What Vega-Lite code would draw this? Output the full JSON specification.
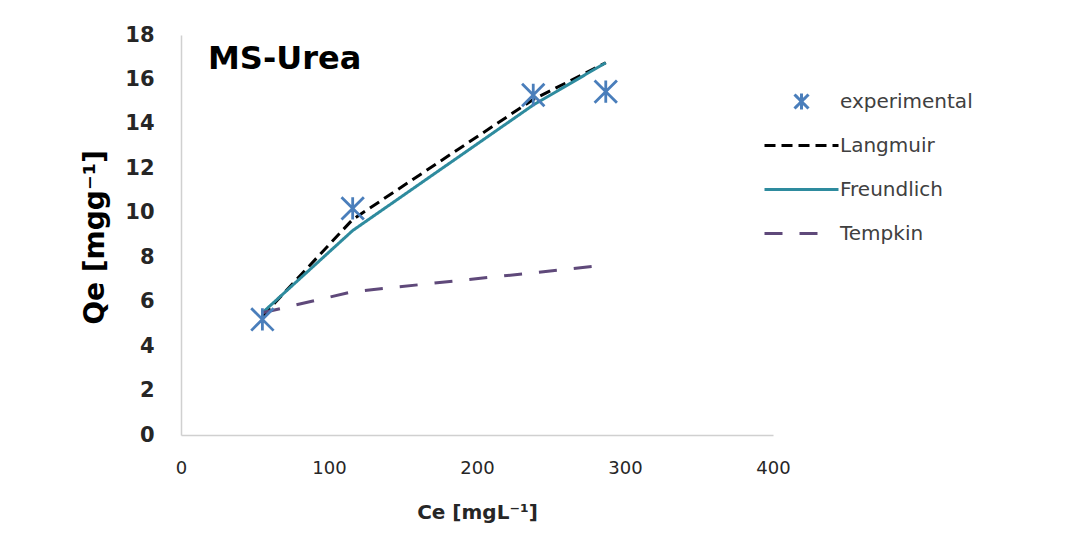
{
  "$schema": "https://vega.github.io/schema/vega-lite/v6.json",
  "width": 592,
  "height": 400,
  "autosize": {"type": "none"},
  "padding": {"left": 181, "top": 35, "right": 311, "bottom": 116},
  "background": "white",
  "config": {
    "view": {"stroke": null},
    "font": "DejaVu Sans"
  },
  "title": {
    "text": "MS-Urea",
    "anchor": "start",
    "frame": "group",
    "orient": "top",
    "offset": 0,
    "dx": 27,
    "dy": 77,
    "baseline": "alphabetic",
    "font": "DejaVu Sans",
    "fontSize": 32,
    "fontWeight": "bold",
    "color": "#000000"
  },
  "datasets": {
    "points": [
      {"ce": 55, "qe": 5.2, "series": "experimental"},
      {"ce": 116, "qe": 10.2, "series": "experimental"},
      {"ce": 238, "qe": 15.3, "series": "experimental"},
      {"ce": 287, "qe": 15.45, "series": "experimental"}
    ],
    "models": [
      {"ce": 55, "qe": 5.35, "series": "Langmuir"},
      {"ce": 116, "qe": 9.7, "series": "Langmuir"},
      {"ce": 238, "qe": 15.1, "series": "Langmuir"},
      {"ce": 287, "qe": 16.75, "series": "Langmuir"},
      {"ce": 55, "qe": 5.5, "series": "Freundlich"},
      {"ce": 116, "qe": 9.2, "series": "Freundlich"},
      {"ce": 238, "qe": 14.85, "series": "Freundlich"},
      {"ce": 287, "qe": 16.75, "series": "Freundlich"},
      {"ce": 55, "qe": 5.5, "series": "Tempkin"},
      {"ce": 116, "qe": 6.45, "series": "Tempkin"},
      {"ce": 238, "qe": 7.3, "series": "Tempkin"},
      {"ce": 287, "qe": 7.65, "series": "Tempkin"}
    ]
  },
  "encoding": {
    "x": {
      "field": "ce",
      "type": "quantitative",
      "scale": {"domain": [0, 400], "nice": false},
      "axis": {
        "values": [0, 100, 200, 300, 400],
        "grid": false,
        "ticks": false,
        "domainColor": "#D0D0D0",
        "domainWidth": 1.5,
        "labelFont": "DejaVu Sans",
        "labelFontSize": 18,
        "labelColor": "#262626",
        "labelPadding": 24,
        "labelFlush": false,
        "title": "Ce [mgL⁻¹]",
        "titleFont": "DejaVu Sans",
        "titleFontSize": 20,
        "titleFontWeight": "bold",
        "titleColor": "#262626",
        "titleY": 77,
        "titleBaseline": "middle"
      }
    },
    "y": {
      "field": "qe",
      "type": "quantitative",
      "scale": {"domain": [0, 18], "nice": false},
      "axis": {
        "values": [0, 2, 4, 6, 8, 10, 12, 14, 16, 18],
        "grid": false,
        "ticks": false,
        "domainColor": "#D0D0D0",
        "domainWidth": 1.5,
        "labelFont": "DejaVu Sans",
        "labelFontSize": 21,
        "labelFontWeight": "bold",
        "labelColor": "#262626",
        "labelPadding": 27,
        "labelFlush": false,
        "title": "Qe [mgg⁻¹]",
        "titleFont": "DejaVu Sans",
        "titleFontSize": 28,
        "titleFontWeight": "bold",
        "titleColor": "#000000",
        "titleAngle": -90,
        "titleX": -86,
        "titleY": 202,
        "titleAlign": "center",
        "titleBaseline": "middle"
      }
    }
  },
  "layer": [
    {
      "data": {"name": "models"},
      "mark": {"type": "line", "strokeWidth": 3},
      "encoding": {
        "color": {
          "field": "series",
          "type": "nominal",
          "scale": {
            "domain": ["experimental", "Langmuir", "Freundlich", "Tempkin"],
            "range": ["#4A7EBB", "#000000", "#2E8B9E", "#5F497A"]
          },
          "legend": {
            "title": null,
            "orient": "none",
            "legendX": 609,
            "legendY": 55,
            "symbolSize": 400,
            "symbolStrokeWidth": 3,
            "labelFont": "DejaVu Sans",
            "labelFontSize": 20,
            "labelColor": "#404040",
            "labelOffset": 27,
            "rowPadding": 18,
            "gridAlign": "all",
            "padding": 0,
            "encode": {
              "symbols": {
                "update": {
                  "shape": {"signal": "datum.value === 'experimental' ? 'M-0.7,-0.7L0.7,0.7M-0.7,0.7L0.7,-0.7M0,-0.8L0,0.8' : datum.value === 'Tempkin' ? 'M-3.7,0L1.6,0' : 'M-3.7,0L3.7,0'"},
                  "strokeDash": {"signal": "datum.value === 'Langmuir' ? [11,6] : datum.value === 'Tempkin' ? [18,17] : [1,0]"},
                  "fill": {"value": "transparent"}
                }
              }
            }
          }
        },
        "strokeDash": {
          "field": "series",
          "type": "nominal",
          "scale": {
            "domain": ["Langmuir", "Freundlich", "Tempkin"],
            "range": [[11, 6], [1, 0], [18, 17]]
          },
          "legend": null
        },
        "order": {"field": "ce", "type": "quantitative"}
      }
    },
    {
      "data": {"name": "points"},
      "mark": {
        "type": "point",
        "shape": "M-1,-1L1,1M-1,1L1,-1M0,-1L0,1",
        "size": 500,
        "filled": false,
        "strokeWidth": 2.8,
        "opacity": 1
      },
      "encoding": {
        "color": {"field": "series", "type": "nominal"}
      }
    }
  ]
}
